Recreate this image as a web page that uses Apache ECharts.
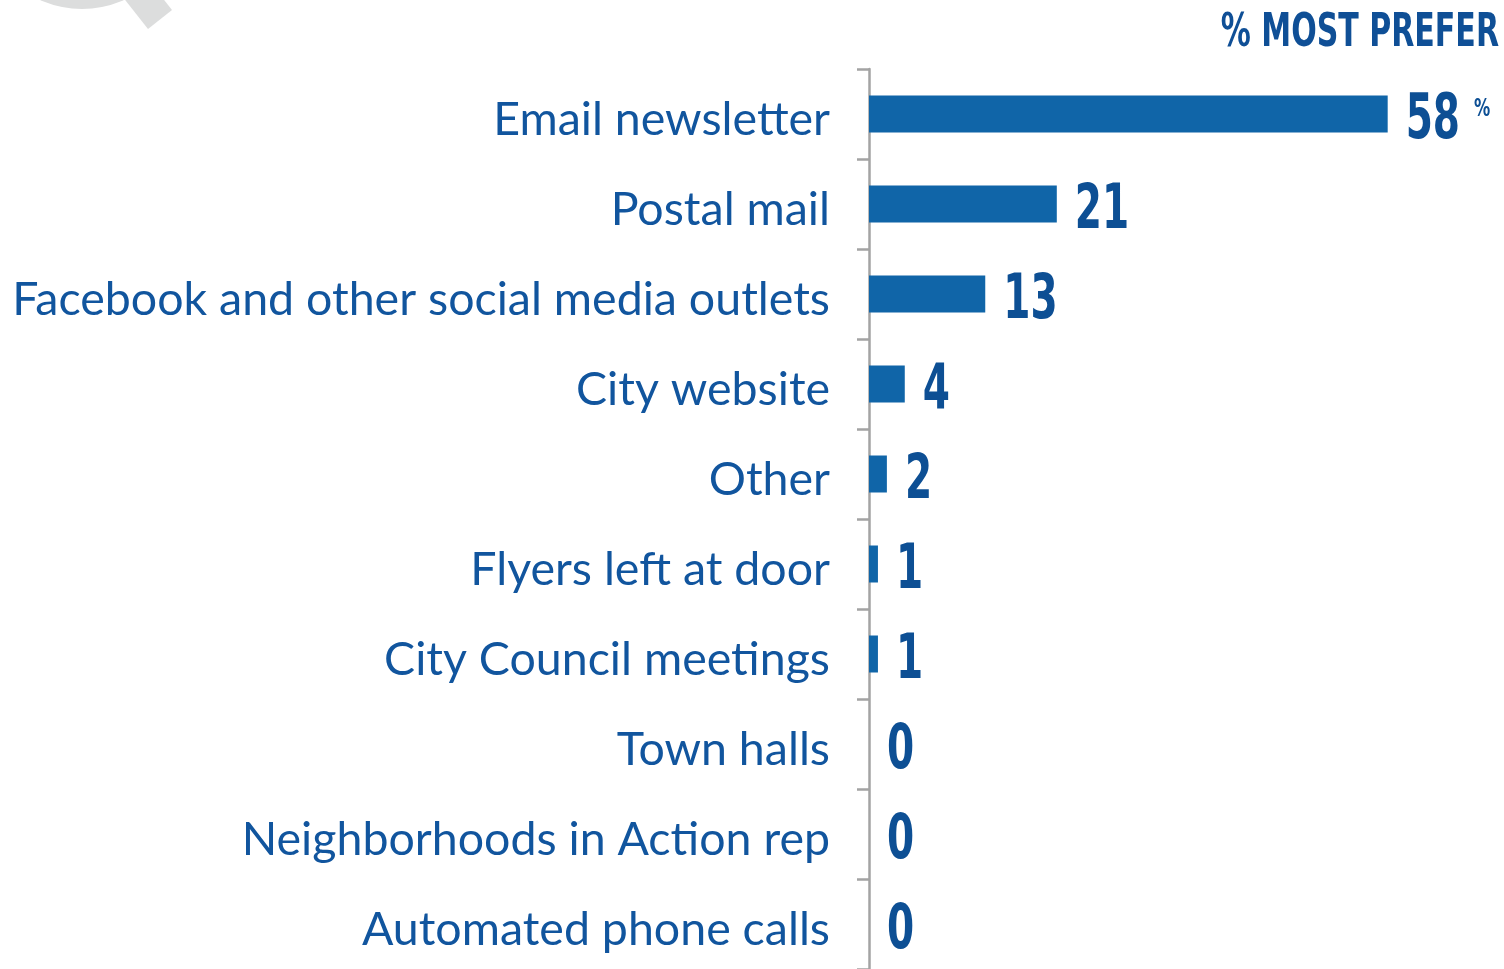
<!DOCTYPE html>
<html>
<head>
<meta charset="utf-8">
<script src="https://cdn.jsdelivr.net/npm/echarts@6/dist/echarts.min.js"></script>
<style>
  html, body { margin: 0; padding: 0; background: #ffffff; }
  #main { width: 1504px; height: 969px; }
</style>
</head>
<body>
<div id="main"></div>
<script>
// categories, top to bottom
var categories = [
  'Email newsletter',
  'Postal mail',
  'Facebook and other social media outlets',
  'City website',
  'Other',
  'Flyers left at door',
  'City Council meetings',
  'Town halls',
  'Neighborhoods in Action rep',
  'Automated phone calls'
];
var preferValues = [58, 21, 13, 4, 2, 1, 1, 0, 0, 0];
var titleText = '% MOST PREFER';

var condensed = "'DejaVu Sans Condensed', 'DejaVu Sans', sans-serif";
var numSize = 62;
var squeeze = 0.7; // fake a condensed face

// width of a string in the number font, for placing the % sign
var measureCtx = document.createElement('canvas').getContext('2d');
function numWidth(str) {
  measureCtx.font = 'bold ' + numSize + 'px ' + condensed;
  return measureCtx.measureText(str).width * squeeze;
}

var chart = echarts.init(document.getElementById('main'));

// value labels drawn through the axes, squeezed horizontally
function renderValueLabel(params, api) {
  var v = api.value(0);
  var pt = api.coord([v, api.value(1)]);
  var x = pt[0] + 18;
  var y = pt[1] + 8;
  var txt = String(v);
  var kids = [{
    type: 'text',
    x: x,
    y: y,
    scaleX: squeeze,
    style: {
      text: txt,
      fontFamily: condensed,
      fontWeight: 'bold',
      fontSize: numSize,
      fill: '#0d4f94',
      align: 'left',
      verticalAlign: 'middle'
    }
  }];
  if (params.dataIndex === 0) {
    kids.push({
      type: 'text',
      x: x + numWidth(txt) + 14,
      y: y - 12,
      scaleX: 0.75,
      style: {
        text: '%',
        fontFamily: condensed,
        fontWeight: 'bold',
        fontSize: 24,
        fill: '#0d4f94',
        align: 'left',
        verticalAlign: 'middle'
      }
    });
  }
  return { type: 'group', children: kids };
}

var option = {
  backgroundColor: '#ffffff',
  animation: false,
  // faded magnifier icon in the corner, and the heading
  graphic: [
    {
      type: 'sector',
      shape: { cx: 82, cy: -93, r: 102, r0: 80, startAngle: 0, endAngle: Math.PI },
      style: { fill: '#dcdddd' },
      z: -1
    },
    {
      type: 'polygon',
      shape: { points: [[135, -37], [172, 10], [148, 29], [111, -18]] },
      style: { fill: '#dcdddd' },
      z: -1
    },
    {
      type: 'text',
      x: 1499,
      y: 10,
      scaleX: 0.71,
      style: {
        text: titleText,
        fontFamily: condensed,
        fontWeight: 'bold',
        fontSize: 47,
        fill: '#0f4f96',
        align: 'right',
        verticalAlign: 'top'
      }
    }
  ],
  grid: {
    left: 869,
    right: 9,
    top: 69,
    bottom: 0
  },
  xAxis: {
    type: 'value',
    min: 0,
    max: 70,
    show: false
  },
  yAxis: {
    type: 'category',
    inverse: true,
    data: categories,
    boundaryGap: true,
    axisLine: { show: true, lineStyle: { color: '#a3a3a3', width: 2.5 } },
    axisTick: {
      show: true,
      inside: false,
      alignWithLabel: false,
      interval: 0,
      length: 12,
      lineStyle: { color: '#a3a3a3', width: 2.5 }
    },
    axisLabel: {
      margin: 39,
      fontFamily: 'Lato',
      fontSize: 46.5,
      color: '#11559e',
      verticalAlign: 'top',
      lineHeight: 12
    }
  },
  series: [
    {
      type: 'bar',
      data: preferValues,
      barWidth: 37,
      itemStyle: { color: '#1065a8' }
    },
    {
      type: 'custom',
      renderItem: renderValueLabel,
      encode: { x: 0, y: 1 },
      data: preferValues.map(function (v, i) { return [v, i]; }),
      z: 3
    }
  ]
};

chart.setOption(option);
</script>
</body>
</html>
